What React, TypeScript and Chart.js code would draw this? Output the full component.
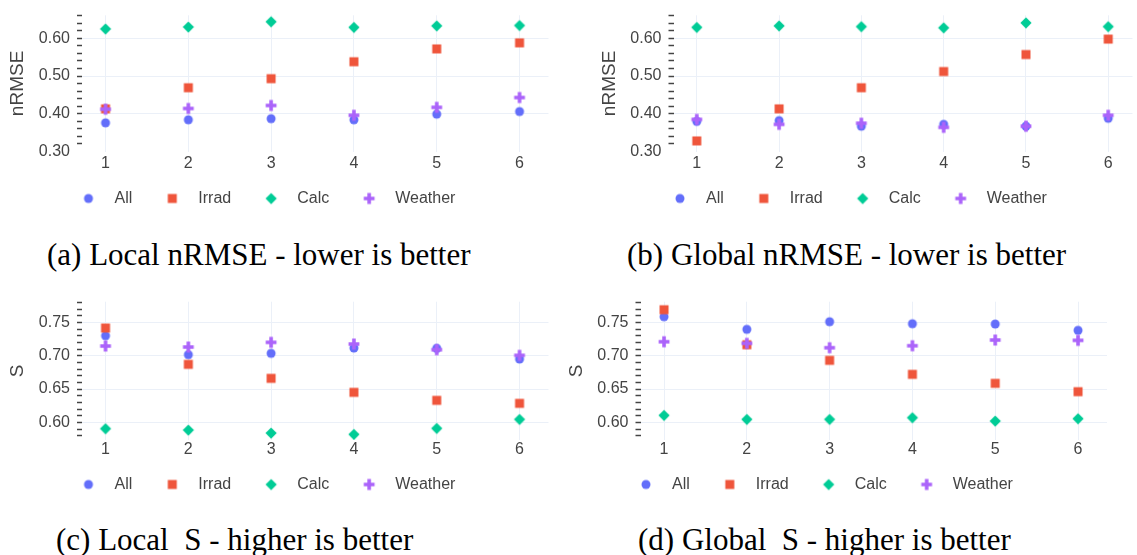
import { useEffect, useRef } from 'react';
import { Chart, registerables } from 'chart.js';

Chart.register(...registerables);

// ---------------- data ----------------
const STEPS = [1, 2, 3, 4, 5, 6];
const SERIES = ['All', 'Irrad', 'Calc', 'Weather'];

const LOCAL_NRMSE_ALL = [0.376, 0.384, 0.387, 0.384, 0.399, 0.406];
const LOCAL_NRMSE_IRRAD = [0.413, 0.469, 0.493, 0.538, 0.572, 0.588];
const LOCAL_NRMSE_CALC = [0.625, 0.63, 0.644, 0.629, 0.633, 0.634];
const LOCAL_NRMSE_WEATHER = [0.412, 0.414, 0.422, 0.396, 0.417, 0.443];

const GLOBAL_NRMSE_ALL = [0.38, 0.382, 0.367, 0.372, 0.367, 0.388];
const GLOBAL_NRMSE_IRRAD = [0.328, 0.413, 0.469, 0.512, 0.557, 0.598];
const GLOBAL_NRMSE_CALC = [0.629, 0.633, 0.631, 0.628, 0.641, 0.631];
const GLOBAL_NRMSE_WEATHER = [0.385, 0.372, 0.375, 0.364, 0.367, 0.396];

const LOCAL_S_ALL = [0.73, 0.7015, 0.7035, 0.7115, 0.711, 0.695];
const LOCAL_S_IRRAD = [0.7415, 0.687, 0.666, 0.645, 0.633, 0.6285];
const LOCAL_S_CALC = [0.5905, 0.5885, 0.584, 0.582, 0.591, 0.6045];
const LOCAL_S_WEATHER = [0.7145, 0.713, 0.72, 0.7175, 0.709, 0.7005];

const GLOBAL_S_ALL = [0.7585, 0.7395, 0.751, 0.748, 0.7475, 0.738];
const GLOBAL_S_IRRAD = [0.769, 0.7165, 0.693, 0.672, 0.6585, 0.646];
const GLOBAL_S_CALC = [0.6105, 0.6045, 0.6045, 0.607, 0.602, 0.6055];
const GLOBAL_S_WEATHER = [0.721, 0.7185, 0.712, 0.715, 0.7235, 0.723];

const NRMSE_TICKS = [0.3, 0.4, 0.5, 0.6];
const S_TICKS = [0.6, 0.65, 0.7, 0.75];

const CAPTIONS = [
  '(a) Local nRMSE - lower is better',
  '(b) Global nRMSE - lower is better',
  '(c) Local  S - higher is better',
  '(d) Global  S - higher is better',
];

// ---------------- style / layout ----------------
const COLORS = ['#636EFA', '#EF553B', '#00CC96', '#AB63FA'];
const SHAPES = ['circle', 'square', 'diamond', 'cross'];
const GRID = '#EBF0F8';
const TEXT = '#444444';
const SANS = '"Liberation Sans", Arial, Helvetica, sans-serif';
const SERIF = '"Liberation Serif", "Times New Roman", Times, serif';
const LEGEND_PAD = 22;
const LEGEND_BOX = 36;
const CAPTION_SIZE = 31;

type Panel = {
  yTitle: string;
  values: number[][];
  majors: number[];
  minorStep: number;
  yMin: number;
  yMax: number;
  xMin: number;
  xMax: number;
  box: { left: number; top: number; width: number; height: number };
  area: { left: number; right: number; top: number; bottom: number };
  titleX: number;
  xLabelY: number;
  legendX: number;
  legendY: number;
  caption: { left: number; baseline: number };
};

const PANELS: Panel[] = [
  {
    yTitle: 'nRMSE',
    values: [LOCAL_NRMSE_ALL, LOCAL_NRMSE_IRRAD, LOCAL_NRMSE_CALC, LOCAL_NRMSE_WEATHER],
    majors: NRMSE_TICKS, minorStep: 0.02, yMin: 0.3, yMax: 0.661,
    xMin: 0.716, xMax: 6.35,
    box: { left: 0, top: 0, width: 560, height: 230 },
    area: { left: 82, right: 548.5, top: 15.3, bottom: 151.5 },
    titleX: 18, xLabelY: 163.3, legendX: 88.5, legendY: 198.5,
    caption: { left: 47, baseline: 265 },
  },
  {
    yTitle: 'nRMSE',
    values: [GLOBAL_NRMSE_ALL, GLOBAL_NRMSE_IRRAD, GLOBAL_NRMSE_CALC, GLOBAL_NRMSE_WEATHER],
    majors: NRMSE_TICKS, minorStep: 0.02, yMin: 0.3, yMax: 0.661,
    xMin: 0.717, xMax: 6.295,
    box: { left: 560, top: 0, width: 577, height: 230 },
    area: { left: 673.5, right: 1137, top: 15.3, bottom: 151.5 },
    titleX: 609.5, xLabelY: 163.3, legendX: 680, legendY: 198.5,
    caption: { left: 627, baseline: 265 },
  },
  {
    yTitle: 'S',
    values: [LOCAL_S_ALL, LOCAL_S_IRRAD, LOCAL_S_CALC, LOCAL_S_WEATHER],
    majors: S_TICKS, minorStep: 0.01, yMin: 0.5735, yMax: 0.781,
    xMin: 0.716, xMax: 6.35,
    box: { left: 0, top: 280, width: 560, height: 230 },
    area: { left: 82, right: 548.5, top: 301.7, bottom: 440 },
    titleX: 18, xLabelY: 450, legendX: 88.5, legendY: 484.5,
    caption: { left: 56, baseline: 550 },
  },
  {
    yTitle: 'S',
    values: [GLOBAL_S_ALL, GLOBAL_S_IRRAD, GLOBAL_S_CALC, GLOBAL_S_WEATHER],
    majors: S_TICKS, minorStep: 0.01, yMin: 0.5735, yMax: 0.781,
    xMin: 0.716, xMax: 6.35,
    box: { left: 560, top: 280, width: 577, height: 230 },
    area: { left: 640.5, right: 1107, top: 301.7, bottom: 440 },
    titleX: 576.5, xLabelY: 450, legendX: 646, legendY: 484.5,
    caption: { left: 638, baseline: 550 },
  },
];

function makeMarker(shape: string, color: string, size = 9): HTMLCanvasElement {
  const c = document.createElement('canvas');
  const S = 16;
  c.width = S;
  c.height = S;
  const g = c.getContext('2d')!;
  const r = size / 2;
  const m = S / 2;
  g.fillStyle = color;
  g.beginPath();
  if (shape === 'circle') {
    g.arc(m, m, r, 0, Math.PI * 2);
  } else if (shape === 'square') {
    g.rect(m - r, m - r, 2 * r, 2 * r);
  } else if (shape === 'diamond') {
    const d = r * 1.25;
    g.moveTo(m + d, m);
    g.lineTo(m, m + d);
    g.lineTo(m - d, m);
    g.lineTo(m, m - d);
    g.closePath();
  } else {
    const a = r * 0.4;
    const b = r * 1.2;
    g.moveTo(m + b, m + a);
    g.lineTo(m + a, m + a);
    g.lineTo(m + a, m + b);
    g.lineTo(m - a, m + b);
    g.lineTo(m - a, m + a);
    g.lineTo(m - b, m + a);
    g.lineTo(m - b, m - a);
    g.lineTo(m - a, m - a);
    g.lineTo(m - a, m - b);
    g.lineTo(m + a, m - b);
    g.lineTo(m + a, m - a);
    g.lineTo(m + b, m - a);
    g.closePath();
  }
  g.fill();
  return c;
}

const legendPlacer = {
  id: 'legendPlacer',
  afterLayout(chart: any, _args: any, opts: any) {
    const lg = chart.legend;
    if (!lg) return;
    const h = lg.height;
    lg.left = opts.left;
    lg.top = opts.top;
    lg.bottom = opts.top + h;
  },
};

function PanelChart({ p }: { p: Panel }) {
  const ref = useRef<HTMLCanvasElement | null>(null);
  useEffect(() => {
    if (!ref.current) return;
    const markers = SHAPES.map((s, i) => makeMarker(s, COLORS[i]));
    const isMajor = (v: number) => p.majors.some((m) => Math.abs(m - v) < 1e-6);
    const atEdge = (v: number) => Math.abs(v - p.yMin) < 1e-6 || Math.abs(v - p.yMax) < 1e-6;

    const titleHalf = (19 * 1.2) / 2;
    const padLeft = p.titleX - p.box.left - titleHalf;
    const padTop = p.area.top - p.box.top;
    const padRight = p.box.left + p.box.width - p.area.right;
    const xAxisH = 20;
    const legendH = 16 + LEGEND_PAD + 10;
    const localBottom = p.area.bottom - p.box.top;
    const padBottom = p.box.height - legendH - xAxisH - localBottom;
    const yAxisW = p.area.left - p.box.left - padLeft;
    const xPad = p.xLabelY - p.area.bottom - 8;

    const chart = new Chart(ref.current, {
      type: 'scatter',
      data: {
        datasets: SERIES.map((name, i) => ({
          label: name,
          data: STEPS.map((s, j) => ({ x: s, y: p.values[i][j] })),
          pointStyle: markers[i] as any,
          pointRadius: 4.5,
          backgroundColor: COLORS[i],
          borderColor: COLORS[i],
          borderWidth: 0,
          order: SERIES.length - i,
        })),
      },
      options: {
        animation: false,
        responsive: false,
        maintainAspectRatio: false,
        devicePixelRatio: 1,
        layout: { padding: { left: padLeft, top: padTop, right: padRight, bottom: padBottom } },
        scales: {
          x: {
            type: 'linear',
            min: p.xMin,
            max: p.xMax,
            afterBuildTicks: (s: any) => {
              s.ticks = STEPS.map((v) => ({ value: v }));
            },
            afterFit: (s: any) => {
              s.height = xAxisH;
              s.paddingLeft = 0;
              s.paddingRight = 0;
            },
            ticks: {
              autoSkip: false,
              maxRotation: 0,
              padding: xPad,
              color: TEXT,
              font: { family: SANS, size: 16, lineHeight: 1 },
              callback: (v: any) => String(v),
            },
            grid: { color: GRID, lineWidth: 1, drawTicks: false },
            border: { display: false },
          },
          y: {
            type: 'linear',
            min: p.yMin,
            max: p.yMax,
            afterBuildTicks: (s: any) => {
              const t: { value: number }[] = [];
              const n0 = Math.ceil(p.yMin / p.minorStep - 1e-6);
              const n1 = Math.floor(p.yMax / p.minorStep + 1e-6);
              for (let n = n0; n <= n1; n++) t.push({ value: +(n * p.minorStep).toFixed(4) });
              s.ticks = t;
            },
            afterFit: (s: any) => {
              s.width = yAxisW;
              s.paddingTop = 0;
              s.paddingBottom = 0;
            },
            ticks: {
              autoSkip: false,
              padding: 7,
              color: TEXT,
              font: { family: SANS, size: 16, lineHeight: 1 },
              callback: (v: any) => (isMajor(Number(v)) ? Number(v).toFixed(2) : ''),
            },
            grid: {
              lineWidth: 1,
              tickLength: 5,
              tickWidth: 1.5,
              color: (ctx: any) =>
                ctx.tick && isMajor(ctx.tick.value) && !atEdge(ctx.tick.value) ? GRID : 'rgba(0,0,0,0)',
              tickColor: (ctx: any) =>
                ctx.tick && !atEdge(ctx.tick.value) ? TEXT : 'rgba(0,0,0,0)',
            },
            border: { display: false },
            title: {
              display: true,
              text: p.yTitle,
              color: TEXT,
              padding: 0,
              font: { family: SANS, size: 19, lineHeight: 1.2 },
            },
          },
        },
        plugins: {
          tooltip: { enabled: false },
          legend: {
            display: true,
            position: 'bottom',
            align: 'start',
            labels: {
              usePointStyle: true,
              pointStyleWidth: LEGEND_BOX,
              padding: LEGEND_PAD,
              color: TEXT,
              font: { family: SANS, size: 16 },
              sort: (a: any, b: any) => a.datasetIndex - b.datasetIndex,
            },
          },
          legendPlacer: {
            left: p.legendX - p.box.left - LEGEND_BOX / 2 - LEGEND_PAD,
            top: p.legendY - p.box.top - 8 - LEGEND_PAD,
          },
        } as any,
      },
      plugins: [legendPlacer as any],
    });
    return () => chart.destroy();
  }, [p]);

  return (
    <canvas
      ref={ref}
      width={p.box.width}
      height={p.box.height}
      style={{
        position: 'absolute',
        left: p.box.left,
        top: p.box.top,
        width: p.box.width,
        height: p.box.height,
      }}
    />
  );
}

export default function App() {
  return (
    <div
      style={{
        position: 'absolute',
        left: 0,
        top: 0,
        width: 1137,
        height: 555,
        background: '#ffffff',
        overflow: 'hidden',
      }}
    >
      {PANELS.map((p, i) => (
        <PanelChart key={i} p={p} />
      ))}
      {PANELS.map((p, i) => (
        <div
          key={'c' + i}
          style={{
            position: 'absolute',
            left: p.caption.left,
            top: p.caption.baseline - 26,
            fontFamily: SERIF,
            fontSize: CAPTION_SIZE,
            lineHeight: CAPTION_SIZE + 'px',
            color: '#000',
            whiteSpace: 'pre',
          }}
        >
          {CAPTIONS[i]}
        </div>
      ))}
    </div>
  );
}
